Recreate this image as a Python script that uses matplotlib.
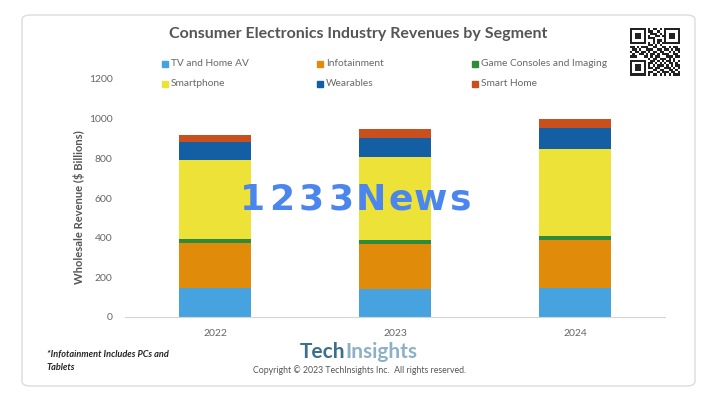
import numpy as np
import matplotlib
matplotlib.use("Agg")
import matplotlib.pyplot as plt
from matplotlib.patches import FancyBboxPatch, Rectangle

plt.rcParams['font.family'] = ['Lato', 'DejaVu Sans']

# data ($ billions)
years = ["2022", "2023", "2024"]
segments = ["TV and Home AV", "Infotainment", "Game Consoles and Imaging",
            "Smartphone", "Wearables", "Smart Home"]
tv_home_av = [145, 139, 145]
infotainment = [230, 228, 244]
game_consoles = [20, 20, 20]
smartphone = [398, 419, 436]
wearables = [87, 98, 110]
smart_home = [36, 43, 45]
yticks = [0, 200, 400, 600, 800, 1000, 1200]

colors = ["#47a3e0", "#e08c0a", "#2f8a3c", "#ede237", "#145ea4", "#c9501c"]
series = [tv_home_av, infotainment, game_consoles, smartphone, wearables, smart_home]

W, H = 715, 396
fig = plt.figure(figsize=(W / 100, H / 100), dpi=100)
fig.patch.set_facecolor("white")

# card behind everything
card = FancyBboxPatch((22 / W, 1 - 386 / H), 673 / W, 371 / H,
                      boxstyle="round,pad=0,rounding_size=0.012",
                      transform=fig.transFigure, facecolor="white",
                      edgecolor="#dcdcdc", linewidth=1.0, zorder=-10)
fig.patches.append(card)

ax = fig.add_axes([125 / W, 1 - 317 / H, 540 / W, 238 / H])
ax.set_zorder(1)
x = np.arange(len(years))
bottom = np.zeros(len(years))
for vals, c in zip(series, colors):
    ax.bar(x, vals, width=0.4, bottom=bottom, color=c, zorder=2)
    bottom += np.array(vals)

ax.set_xlim(-0.5, 2.5)
ax.set_ylim(0, 1200)
ax.set_xticks(x)
ax.set_xticklabels(years)
ax.set_yticks(yticks)
ax.tick_params(length=0, labelsize=7.5, labelcolor="#666666")
ax.tick_params(axis="x", pad=9)
ax.tick_params(axis="y", pad=9)
for s in ["top", "right", "left"]:
    ax.spines[s].set_visible(False)
ax.spines["bottom"].set_color("#d4d4d4")
ax.set_facecolor("none")
ax.set_ylabel("Wholesale Revenue ($ Billions)", fontsize=8.0, fontweight="bold",
              color="#555555")
ax.yaxis.set_label_coords(-0.074, 0.46)

fig.text(358 / W, 1 - 34 / H, "Consumer Electronics Industry Revenues by Segment",
         ha="center", va="center", fontsize=11.5, fontweight="bold", color="#555555")

# legend, two rows of three
leg_x = [165, 320, 475]
leg_y = [64, 84]
for i, (name, c) in enumerate(zip(segments, colors)):
    lx = leg_x[i % 3]
    ly = leg_y[i // 3]
    fig.patches.append(Rectangle(((lx - 3) / W, 1 - (ly + 3) / H), 6 / W, 6 / H,
                                 transform=fig.transFigure, color=c))
    fig.text((lx + 6) / W, 1 - ly / H, name, ha="left", va="center",
             fontsize=7.3, color="#666666")

# watermark, spread out letter by letter
wm = "1233News"
wm_x = np.linspace(252, 460, len(wm))
for ch, px in zip(wm, wm_x):
    fig.text(px / W, 1 - 200 / H, ch, ha="center", va="center", fontsize=26,
             color="#4a86ee", fontweight="bold", family="DejaVu Sans", zorder=5)

# footer
fig.text(47 / W, 1 - 355 / H, "*Infotainment Includes PCs and", ha="left",
         va="center", fontsize=6.6, style="italic", fontweight="bold", color="#222222")
fig.text(47 / W, 1 - 367 / H, "Tablets", ha="left", va="center",
         fontsize=6.6, style="italic", fontweight="bold", color="#222222")
t1 = fig.text(300 / W, 1 - 352 / H, "Tech", ha="left", va="center",
              fontsize=15, fontweight="bold", color="#3b6f8c")
fig.canvas.draw()
bb = t1.get_window_extent()
fig.text(bb.x1 / W, 1 - 352 / H, "Insights", ha="left", va="center",
         fontsize=15, fontweight="bold", color="#8eb0c6")
fig.text(360 / W, 1 - 370 / H, "Copyright \u00a9 2023 TechInsights Inc.  All rights reserved.",
         ha="center", va="center", fontsize=6.3, color="#555555")

# QR code style badge
qr = ["1111111010110101111111",
      "1000001011001001000001",
      "1011101001110101011101",
      "1011101010011011011101",
      "1011101011100001011101",
      "1000001000101101000001",
      "1111111010101011111111",
      "0000000011010100000000",
      "1101011100110011010110",
      "0110100111001101101011",
      "1011011010110110010101",
      "0100110101101011100110",
      "1110001101011000111011",
      "0000000010110111010100",
      "1111111001101010110101",
      "1000001011010101011010",
      "1011101010101110101011",
      "1011101011011001110101",
      "1011101000110110011010",
      "1000001011001011101101",
      "1111111010110101010111"]
q0x, q0y, qs = 630, 28, 50 / 22
for r, row in enumerate(qr):
    for c, bit in enumerate(row):
        if bit == "1":
            fig.patches.append(Rectangle(((q0x + c * qs) / W, 1 - (q0y + (r + 1) * qs) / H),
                                         qs / W, qs / H, transform=fig.transFigure,
                                         color="#222222", linewidth=0))

fig.savefig("out.png", dpi=100)
